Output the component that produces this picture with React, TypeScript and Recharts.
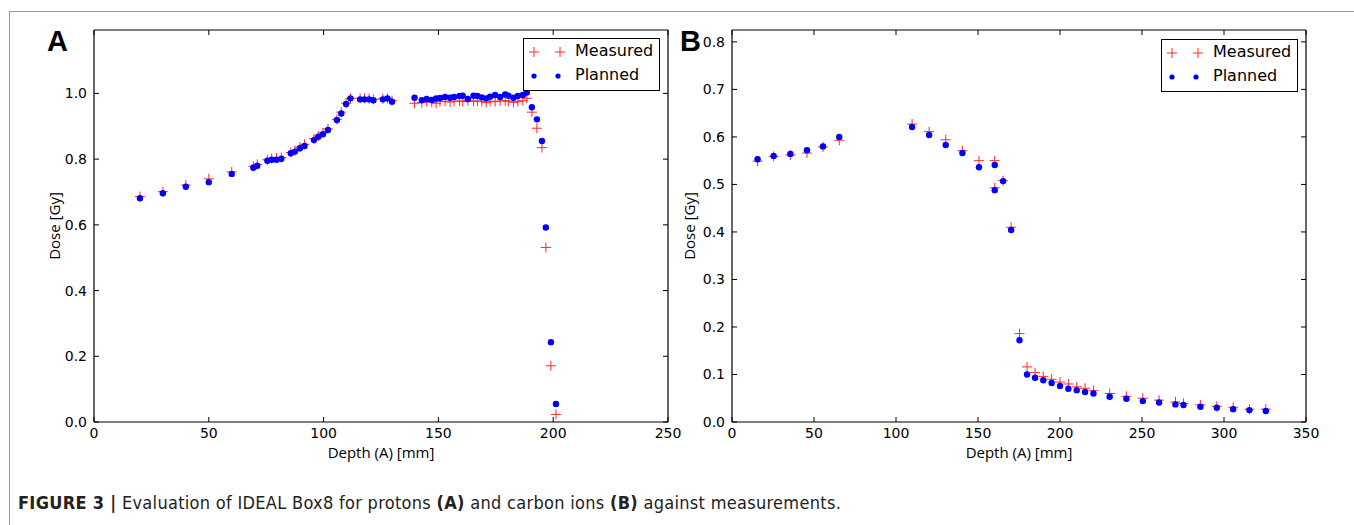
import React from 'react';
import { ScatterChart, Scatter, XAxis, YAxis } from 'recharts';

// ---------- Panel A: protons ----------
const depthA = [
  20, 30, 40, 50, 60, 69.4, 71.1, 75.5, 77.4, 79.5, 81.6, 85.7, 87.5, 89.7, 91.7, 95.8, 97.7, 99.7, 101.9,
  105.8, 107.7, 109.8, 111.7, 115.9, 117.8, 119.8, 121.7, 125.8, 127.8, 129.8,
  139.6, 142.8, 144.9, 147.1, 149.0, 150.7, 152.9, 155.1, 156.8, 159.2, 160.6, 162.8, 165.3, 167.0, 168.9,
  170.8, 172.5, 174.7, 176.9, 179.1, 180.5, 182.7, 184.6, 186.8, 188.5,
  190.7, 192.9, 195.1, 196.8, 199.0, 201.2,
];
const measuredA = [
  0.686, 0.701, 0.721, 0.740, 0.761, 0.778, 0.784, 0.798, 0.802, 0.803, 0.805, 0.820, 0.826, 0.836, 0.845, 0.862, 0.870, 0.880, 0.892,
  0.921, 0.943, 0.970, 0.985, 0.985, 0.985, 0.984, 0.982, 0.984, 0.985, 0.978,
  0.970, 0.972, 0.975, 0.973, 0.970, 0.975, 0.976, 0.974, 0.976, 0.977, 0.975, 0.978, 0.976, 0.977, 0.975,
  0.972, 0.976, 0.975, 0.977, 0.978, 0.976, 0.973, 0.975, 0.978, 0.985,
  0.943, 0.894, 0.835, 0.531, 0.171, 0.023,
];
const plannedA = [
  0.681, 0.696, 0.716, 0.730, 0.755, 0.774, 0.780, 0.795, 0.798, 0.798, 0.801, 0.818, 0.823, 0.833, 0.840, 0.858, 0.868, 0.876, 0.889,
  0.919, 0.939, 0.968, 0.985, 0.982, 0.982, 0.982, 0.979, 0.982, 0.985, 0.975,
  0.987, 0.979, 0.983, 0.980, 0.985, 0.986, 0.989, 0.987, 0.989, 0.992, 0.993, 0.983, 0.993, 0.992, 0.988,
  0.985, 0.990, 0.995, 0.989, 0.997, 0.993, 0.987, 0.992, 0.995, 1.003,
  0.958, 0.921, 0.855, 0.592, 0.243, 0.055,
];
const xTicksA = [0, 50, 100, 150, 200, 250];
const yTicksA = [0, 0.2, 0.4, 0.6, 0.8, 1.0];

// ---------- Panel B: carbon ions ----------
const depthB = [
  15.6, 25.4, 35.6, 45.7, 55.5, 65.4, 109.8, 120.2, 130.3, 140.5, 150.6, 160.2, 160.2, 165.3, 170.2,
  175.3, 179.9, 184.8, 189.8, 194.9, 200.0, 205.1, 210.2, 215.3, 220.4, 230.3, 240.5, 250.5, 260.4,
  270.4, 275.3, 285.6, 295.6, 305.6, 315.5, 325.5,
];
const measuredB = [
  0.549, 0.559, 0.562, 0.566, 0.579, 0.593, 0.627, 0.611, 0.594, 0.571, 0.550, 0.550, 0.493, 0.508, 0.410,
  0.186, 0.116, 0.104, 0.096, 0.090, 0.084, 0.080, 0.074, 0.071, 0.066, 0.060, 0.054, 0.050, 0.046,
  0.042, 0.039, 0.036, 0.033, 0.031, 0.027, 0.027,
];
const plannedB = [
  0.553, 0.560, 0.564, 0.572, 0.580, 0.600, 0.621, 0.604, 0.583, 0.566, 0.536, 0.541, 0.488, 0.507, 0.404,
  0.172, 0.100, 0.093, 0.088, 0.082, 0.076, 0.070, 0.067, 0.063, 0.060, 0.053, 0.049, 0.044, 0.041,
  0.037, 0.036, 0.032, 0.030, 0.027, 0.025, 0.023,
];
const xTicksB = [0, 50, 100, 150, 200, 250, 300, 350];
const yTicksB = [0, 0.1, 0.2, 0.3, 0.4, 0.5, 0.6, 0.7, 0.8];

const seriesNames = ['Measured', 'Planned'];
const xLabel = 'Depth (A) [mm]';
const yLabel = 'Dose [Gy]';
const caption = {
  lead: 'FIGURE 3 |',
  parts: [
    { t: ' Evaluation of IDEAL Box8 for protons ', b: false },
    { t: '(A)', b: true },
    { t: ' and carbon ions ', b: false },
    { t: '(B)', b: true },
    { t: ' against measurements.', b: false },
  ],
};

const RED = '#ff2a2a';
const BLUE = '#0000ff';
const TICK_FONT = { fontFamily: 'DejaVu Sans', fontSize: 14, fill: '#000' };
const LABEL_FONT = { fontFamily: 'Open Sans', fontSize: 15, fill: '#000' };

const Plus = (props: any) => {
  const { cx, cy } = props;
  if (cx == null || cy == null) return <g />;
  return (
    <g>
      <line x1={cx - 5} x2={cx + 5} y1={cy} y2={cy} stroke={RED} strokeWidth={1} />
      <line x1={cx} x2={cx} y1={cy - 5} y2={cy + 5} stroke={RED} strokeWidth={1} />
    </g>
  );
};
const Dot = (props: any) => {
  const { cx, cy } = props;
  if (cx == null || cy == null) return <g />;
  return <circle cx={cx} cy={cy} r={3.2} fill={BLUE} />;
};
const Empty = () => <g />;

const LegendBox = ({ left, top }: { left: number; top: number }) => (
  <div
    style={{
      position: 'absolute',
      left,
      top,
      width: 137,
      height: 53,
      border: '1px solid #000',
      background: '#fff',
      fontFamily: 'DejaVu Sans',
      fontSize: 16,
      color: '#000',
      boxSizing: 'border-box',
    }}
  >
    <svg width={50} height={52} style={{ position: 'absolute', left: 0, top: 0 }}>
      <line x1={5} x2={15} y1={13} y2={13} stroke={RED} />
      <line x1={10} x2={10} y1={8} y2={18} stroke={RED} />
      <line x1={31} x2={41} y1={13} y2={13} stroke={RED} />
      <line x1={36} x2={36} y1={8} y2={18} stroke={RED} />
      <circle cx={10} cy={37} r={2.6} fill={BLUE} />
      <circle cx={34} cy={37} r={2.6} fill={BLUE} />
    </svg>
    <div style={{ position: 'absolute', left: 51, top: 2, lineHeight: '20px' }}>{seriesNames[0]}</div>
    <div style={{ position: 'absolute', left: 51, top: 26, lineHeight: '20px' }}>{seriesNames[1]}</div>
  </div>
);

type PanelProps = {
  left: number;
  width: number;
  marginLeft: number;
  marginRight: number;
  depth: number[];
  measured: number[];
  planned: number[];
  xDomain: [number, number];
  yDomain: [number, number];
  xTicks: number[];
  yTicks: number[];
  yLabelOffset: number;
};

const Panel = (p: PanelProps) => {
  const mData = p.depth.map((d, i) => ({ x: d, y: p.measured[i] }));
  const pData = p.depth.map((d, i) => ({ x: d, y: p.planned[i] }));
  return (
    <div style={{ position: 'absolute', left: p.left, top: 0 }}>
      <ScatterChart
        width={p.width}
        height={470}
        margin={{ top: 29, right: p.marginRight, bottom: 0, left: p.marginLeft }}
      >
        <XAxis
          type="number"
          dataKey="x"
          domain={p.xDomain}
          ticks={p.xTicks}
          allowDataOverflow
          height={48}
          axisLine={{ stroke: '#000', strokeWidth: 1.2 }}
          tickLine={{ stroke: '#000' }}
          tickSize={-5}
          tickMargin={11}
          tick={TICK_FONT}
          interval={0}
          label={{ value: xLabel, position: 'insideBottom', offset: 12, style: LABEL_FONT }}
        />
        <XAxis
          xAxisId="top"
          orientation="top"
          type="number"
          dataKey="x"
          domain={p.xDomain}
          ticks={p.xTicks}
          allowDataOverflow
          height={1}
          axisLine={{ stroke: '#000', strokeWidth: 1.2 }}
          tickLine={{ stroke: '#000' }}
          tickSize={-5}
          tick={Empty}
          interval={0}
        />
        <YAxis
          type="number"
          dataKey="y"
          domain={p.yDomain}
          ticks={p.yTicks}
          allowDataOverflow
          width={50}
          axisLine={{ stroke: '#000', strokeWidth: 1.2 }}
          tickLine={{ stroke: '#000' }}
          tickSize={-5}
          tickMargin={12}
          tick={TICK_FONT}
          tickFormatter={(v: number) => v.toFixed(1)}
          interval={0}
          label={{
            value: yLabel,
            angle: -90,
            position: 'insideLeft',
            offset: p.yLabelOffset,
            style: { ...LABEL_FONT, textAnchor: 'middle' },
          }}
        />
        <YAxis
          yAxisId="right"
          orientation="right"
          type="number"
          dataKey="y"
          domain={p.yDomain}
          ticks={p.yTicks}
          allowDataOverflow
          width={1}
          axisLine={{ stroke: '#000', strokeWidth: 1.2 }}
          tickLine={{ stroke: '#000' }}
          tickSize={-5}
          tick={Empty}
          interval={0}
        />
        <Scatter name={seriesNames[0]} data={mData} fill={RED} shape={Plus} isAnimationActive={false} />
        <Scatter name={seriesNames[1]} data={pData} fill={BLUE} shape={Dot} isAnimationActive={false} />
      </ScatterChart>
    </div>
  );
};

const letterStyle: React.CSSProperties = {
  position: 'absolute',
  top: 24,
  fontFamily: 'Liberation Sans',
  fontWeight: 'bold',
  fontSize: 29,
  lineHeight: '34px',
  color: '#000',
};

export default function App() {
  return (
    <div
      style={{
        position: 'absolute',
        left: 0,
        top: 0,
        width: 1354,
        height: 525,
        background: '#fff',
        overflow: 'hidden',
      }}
    >
      <div style={{ position: 'absolute', left: 9, top: 11, width: 1345, height: 1, background: '#9a9a9a' }} />
      <div style={{ position: 'absolute', left: 9, top: 11, width: 1, height: 514, background: '#9a9a9a' }} />

      <Panel
        left={0}
        width={700}
        marginLeft={44}
        marginRight={31}
        depth={depthA}
        measured={measuredA}
        planned={plannedA}
        xDomain={[0, 250]}
        yDomain={[0, 1.193]}
        xTicks={xTicksA}
        yTicks={yTicksA}
        yLabelOffset={11}
      />
      <Panel
        left={672}
        width={670}
        marginLeft={10}
        marginRight={35}
        depth={depthB}
        measured={measuredB}
        planned={plannedB}
        xDomain={[0, 350]}
        yDomain={[0, 0.825]}
        xTicks={xTicksB}
        yTicks={yTicksB}
        yLabelOffset={8}
      />
      <LegendBox left={523} top={38} />
      <LegendBox left={1161} top={39} />

      <div style={{ ...letterStyle, left: 47 }}>A</div>
      <div style={{ ...letterStyle, left: 680 }}>B</div>

      <div
        style={{
          position: 'absolute',
          left: 18,
          top: 492,
          fontFamily: '"Liberation Sans Narrow", "DejaVu Sans Condensed", "Liberation Sans"',
          fontStretch: 'condensed',
          fontSize: 18,
          letterSpacing: 0.3,
          lineHeight: '22px',
          color: '#222',
          whiteSpace: 'nowrap',
        }}
      >
        <b>{caption.lead}</b>
        {caption.parts.map((c, i) => (c.b ? <b key={i}>{c.t}</b> : <span key={i}>{c.t}</span>))}
      </div>
    </div>
  );
}
